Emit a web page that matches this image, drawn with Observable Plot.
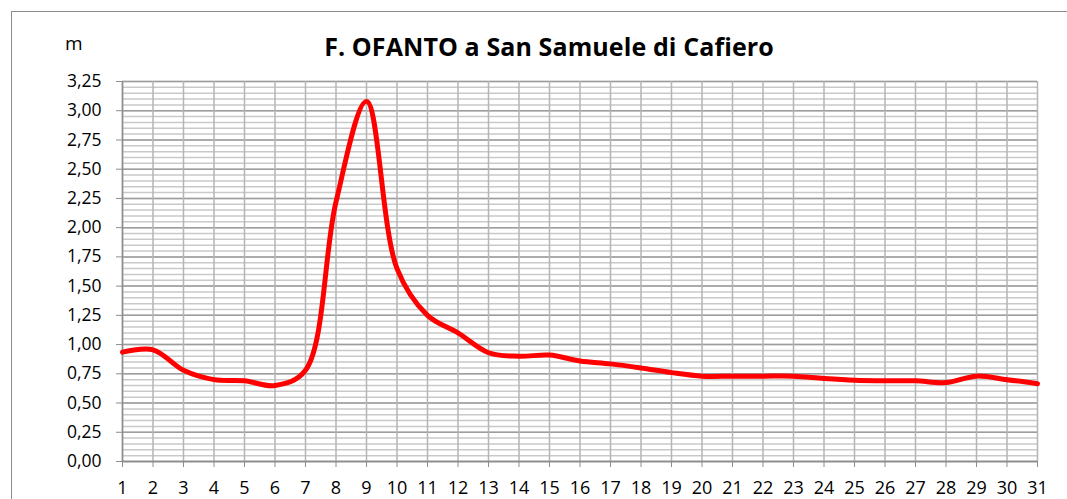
<!DOCTYPE html>
<html>
<head>
<meta charset="utf-8">
<script src="https://cdn.jsdelivr.net/npm/d3@7"></script>
<script src="https://cdn.jsdelivr.net/npm/@observablehq/plot@0.6"></script>
<style>
  html, body { margin: 0; padding: 0; background: #fff; }
  #wrap { position: relative; width: 1067px; height: 499px; overflow: hidden; background: #fff; }
  #border { position: absolute; left: 11px; top: 11px; width: 1200px; height: 700px; border: 1px solid #8c8c8c; box-sizing: border-box; }
  #title { position: absolute; left: 0; width: 1098px; top: 34px; text-align: center; font-family: "Open Sans", sans-serif; font-weight: bold; font-size: 25px; color: #000; line-height: 1; letter-spacing: 0.1px; }
  #unit { position: absolute; left: 65px; top: 34px; font-family: "Open Sans", sans-serif; font-size: 19px; color: #000; line-height: 1; }
  #chart { position: absolute; left: 0; top: 0; }
</style>
</head>
<body>
<div id="wrap">
  <div id="border"></div>
  <div id="chart"></div>
  <div id="title">F. OFANTO a San Samuele di Cafiero</div>
  <div id="unit">m</div>
</div>
<script>
const days = [1,2,3,4,5,6,7,8,9,10,11,12,13,14,15,16,17,18,19,20,21,22,23,24,25,26,27,28,29,30,31];
const levels = [0.935,0.955,0.78,0.70,0.69,0.65,0.78,2.22,3.08,1.65,1.25,1.10,0.93,0.90,0.91,0.86,0.835,0.80,0.76,0.73,0.73,0.73,0.73,0.71,0.695,0.69,0.69,0.675,0.73,0.70,0.665];
const yTicks = [0,0.25,0.5,0.75,1,1.25,1.5,1.75,2,2.25,2.5,2.75,3,3.25];
const xTickLabels = days.map(String);
const yMinorGrid = d3.range(0, 3.2501, 0.05).map(v => +v.toFixed(2));

const data = days.map((d, i) => ({day: d, level: levels[i]}));
const fmt = v => v.toFixed(2).replace(".", ",");

const chart = Plot.plot({
  width: 1067,
  height: 499,
  marginLeft: 122,
  marginRight: 30,
  marginTop: 81,
  marginBottom: 38,
  style: {fontFamily: "'Open Sans', sans-serif", fontSize: "17.5px", color: "#000", background: "transparent", overflow: "visible"},
  x: {domain: [1, 31], type: "linear"},
  y: {domain: [0, 3.25]},
  marks: [
    Plot.gridY(yMinorGrid, {stroke: "#c9c9c9", strokeOpacity: 1, strokeWidth: 1.5}),
    Plot.gridY(yTicks, {stroke: "#9d9d9d", strokeOpacity: 1, strokeWidth: 1.5}),
    Plot.gridX(days, {stroke: "#b5b5b5", strokeOpacity: 1, strokeWidth: 1.5}),
    Plot.axisY(yTicks, {tickSize: 6, tickPadding: 15, stroke: "#8c8c8c", tickFormat: fmt, label: null, fill: "#000", fontSize: "17.5px"}),
    Plot.axisX(days, {tickSize: 6, tickPadding: 14, stroke: "#8c8c8c", tickFormat: (d, i) => xTickLabels[i], label: null, fill: "#000", fontSize: "18px"}),
    Plot.ruleX([1], {stroke: "#8c8c8c", strokeWidth: 1.5}),
    Plot.ruleY([0], {stroke: "#8c8c8c", strokeWidth: 1.5}),
    Plot.line(data, {x: "day", y: "level", curve: "catmull-rom", stroke: "#ff0000", strokeWidth: 5, strokeLinejoin: "round", strokeLinecap: "round"})
  ]
});
document.getElementById("chart").appendChild(chart);
</script>
</body>
</html>
